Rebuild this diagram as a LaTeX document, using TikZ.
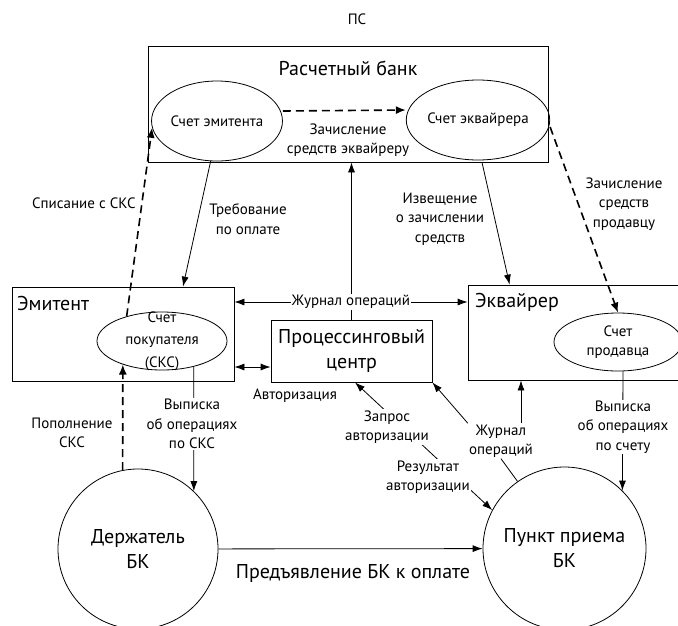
\documentclass[tikz,border=0pt]{standalone}
\usepackage{fontspec}
\setmainfont{PT Sans}
\usetikzlibrary{arrows.meta,shapes.geometric,positioning}
\newcommand\lblfont{\fontsize{15}{19.5}\selectfont}
\newcommand\bigfont{\fontsize{20}{25}\selectfont}
\tikzset{
	box_style/.style = {shape=rectangle, draw=black, line width=0.8pt, inner sep=0pt},
	acc_style/.style = {shape=ellipse, draw=black, line width=0.8pt, inner sep=0pt, align=center, font=\lblfont},
	person_style/.style = {shape=circle, draw=black, line width=0.8pt, inner sep=0pt, minimum size=160pt, align=center, font=\bigfont},
	label_style/.style = {align=center, inner sep=1pt, font=\lblfont},
	title_style/.style = {inner sep=0pt, font=\bigfont}
}

\begin{document}
\begin{tikzpicture}[x=1pt, y=-1pt,
	edge_style/.style={
		draw=black,
		line width=0.8pt,
		-{Latex[length=10pt,width=7pt]}
		},
	edge_both/.style={
		edge_style,
		{Latex[length=10pt,width=7pt]}-{Latex[length=10pt,width=7pt]}
		},
	plain_style/.style={draw=black, line width=0.8pt},
	dash_edge_style/.style={
		draw=black,
		line width=1.6pt,
		dash pattern=on 8pt off 5pt,
		-{Latex[length=10pt,width=8pt]}
		}
	]
	\clip (0,0) rectangle (678,625);
	% all the nodes
	\node[label_style] (ps) at (357,19) {ПС};
	\node[box_style, minimum width=400pt, minimum height=116pt] (bank) at (348,104) {};
	\node[title_style] (banktitle) at (348,68) {Расчетный банк};
	\node[acc_style, minimum width=128pt, minimum height=80pt] (emitacc) at (217,121) {Счет эмитента};
	\node[acc_style, minimum width=134pt, minimum height=80pt] (acqacc) at (478,120) {Счет эквайрера};

	\node[box_style, minimum width=222pt, minimum height=94pt] (emitent) at (123,334) {};
	\node[title_style, anchor=west] (emitenttitle) at (17,303) {Эмитент};
	\node[acc_style, minimum width=130pt, minimum height=58pt] (skc) at (162,341) {};
	\node[label_style, font=\fontsize{15}{22.5}\selectfont] (skctext) at (skc) {Счет\\покупателя\\(СКС)};

	\node[box_style, minimum width=161pt, minimum height=62pt, align=center, font=\bigfont] (proc) at (351.5,351) {Процессинговый\\центр};

	\node[box_style, minimum width=214pt, minimum height=95pt] (acq) at (575,332.5) {};
	\node[title_style, anchor=west] (acqtitle) at (475,302) {Эквайрер};
	\node[acc_style, minimum width=128pt, minimum height=58pt] (selleracc) at (618,342) {Счет\\продавца};

	\node[person_style] (holder) at (138,549) {Держатель\\БК};
	\node[person_style, minimum size=163pt] (pp) at (564.5,548.5) {Пункт приема\\БК};

	% bank accounts
	\draw[dash_edge_style] ([yshift=10pt]emitacc.east) -- ([yshift=10pt]acqacc.west);
	\node[label_style] (enroll) at (348,140) {Зачисление\\средств эквайреру};
	\draw[dash_edge_style] (skc.145) -- (emitacc.186);
	\node[label_style, anchor=east] (writeoff) at (137,203) {Списание с СКС};
	\draw[edge_style] (emitacc.261) -- ([xshift=60pt]emitent.north);
	\node[label_style] (demand) at (248,219) {Требование\\по оплате};
	\draw[dash_edge_style] ([yshift=-7pt]acqacc.east) -- (selleracc.north);
	\node[label_style] (sellerenroll) at (624,204) {Зачисление\\средств\\продавцу};
	\draw[edge_style] ([xshift=134pt]bank.south) -- ([xshift=42pt]acq.north west);
	\node[label_style] (notice) at (440,219) {Извещение\\о зачислении\\средств};

	% processing center
	\draw[edge_style] (proc.north) -- (proc.north |- bank.south);
	\node[label_style, fill=white] (journal) at (351,302) {Журнал операций};
	\draw[edge_style] (journal) -- (journal -| emitent.east);
	\draw[edge_style] (journal) -- (journal -| acq.west);
	\draw[edge_both] ([yshift=-16pt]proc.west) -- ([yshift=-16pt]proc.west -| emitent.east);
	\node[label_style] (auth) at (295,396) {Авторизация};

	\draw[edge_both] ([xshift=3.5pt]proc.south) -- (pp.152);
	\node[label_style, fill=white] (request) at (387,427) {Запрос\\авторизации};
	\node[label_style, fill=white] (result) at (428,477) {Результат\\авторизации};

	\node[label_style] (ppjournal) at (501,441) {Журнал\\операций};
	\draw[plain_style] (pp.125) -- (ppjournal.south);
	\draw[edge_style] ([xshift=20pt]ppjournal.north) -- ([xshift=20pt]ppjournal.north |- acq.south);
	\draw[edge_style] (ppjournal.north west) -- (proc.south east);

	% card holder
	\draw[edge_style] (holder) -- (pp);
	\node[title_style] (present) at (353,573) {Предъявление БК к оплате};
	\draw[dash_edge_style] (holder.101.5) -- (skc.211);
	\node[label_style] (topup) at (72,433) {Пополнение\\СКС};
	\draw[edge_style] (skc.-39) -- (holder.46.6);
	\node[label_style, fill=white] (stmt) at (192,424) {Выписка\\об операциях\\по СКС};
	\draw[edge_style] ([xshift=5pt]selleracc.south) -- (pp.45);
	\node[label_style, fill=white] (sellerstmt) at (623,427) {Выписка\\об операциях\\по счету};
\end{tikzpicture}
\end{document}
